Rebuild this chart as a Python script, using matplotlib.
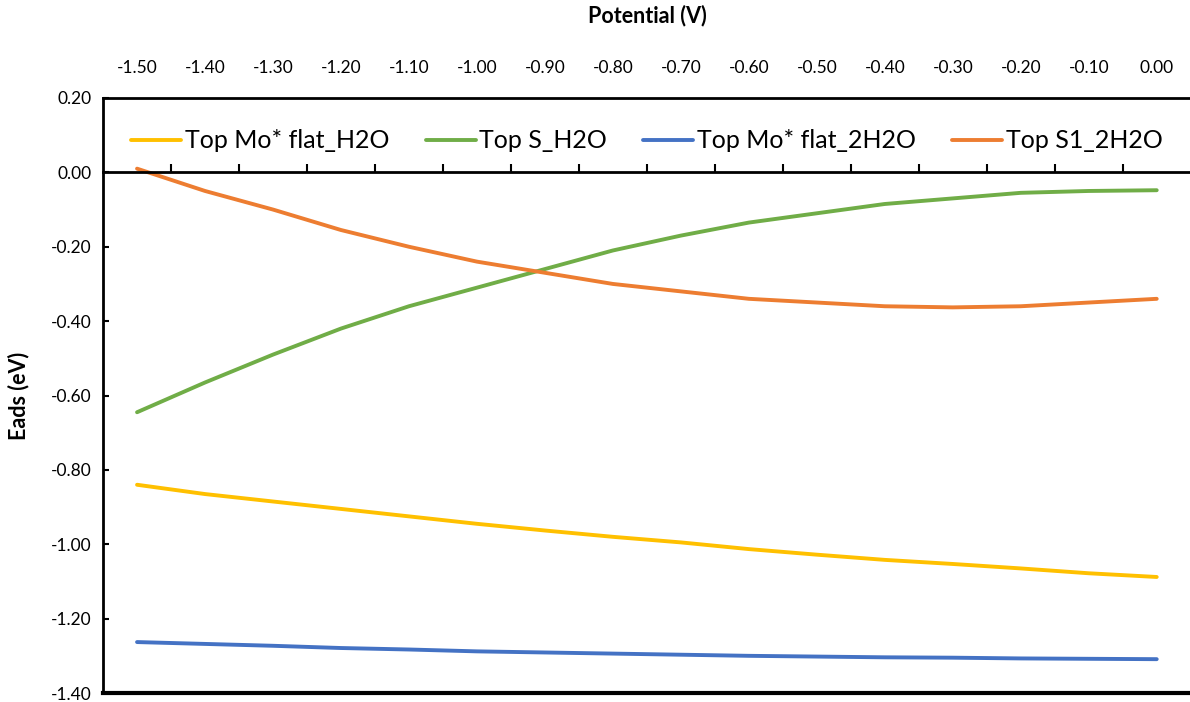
import numpy as np
import matplotlib.pyplot as plt
from matplotlib.ticker import FixedLocator

# Potential (V) categories
potential = ['-1.50', '-1.40', '-1.30', '-1.20', '-1.10', '-1.00', '-0.90', '-0.80',
             '-0.70', '-0.60', '-0.50', '-0.40', '-0.30', '-0.20', '-0.10', '0.00']

# Eads (eV)
mo_flat_h2o = [-0.840, -0.865, -0.885, -0.905, -0.925, -0.945, -0.963, -0.980,
               -0.995, -1.013, -1.028, -1.042, -1.053, -1.065, -1.078, -1.088]
s_h2o = [-0.645, -0.565, -0.490, -0.420, -0.360, -0.310, -0.260, -0.210,
         -0.170, -0.135, -0.110, -0.085, -0.070, -0.055, -0.050, -0.048]
mo_flat_2h2o = [-1.263, -1.268, -1.273, -1.279, -1.283, -1.288, -1.291, -1.294,
                -1.297, -1.300, -1.302, -1.304, -1.305, -1.307, -1.308, -1.309]
s1_2h2o = [0.010, -0.050, -0.100, -0.155, -0.200, -0.240, -0.270, -0.300,
           -0.320, -0.340, -0.350, -0.360, -0.363, -0.360, -0.350, -0.340]

y_ticks = [-1.4, -1.2, -1.0, -0.8, -0.6, -0.4, -0.2, 0.0, 0.2]
y_ticklabels = ['-1.40', '-1.20', '-1.00', '-0.80', '-0.60', '-0.40', '-0.20', '0.00', '0.20']

series_names = ['Top Mo* flat_H2O', 'Top S_H2O', 'Top Mo* flat_2H2O', 'Top S1_2H2O']
colors = ['#FFC000', '#70AD47', '#4472C4', '#ED7D31']

plt.rcParams['font.family'] = ['Lato', 'DejaVu Sans']

fig = plt.figure(figsize=(11.9, 7.02), dpi=100)
ax = fig.add_axes([0.0866, 0.0128, 0.914, 0.8476])

x = np.arange(len(potential))
for vals, name, c in zip([mo_flat_h2o, s_h2o, mo_flat_2h2o, s1_2h2o], series_names, colors):
    ax.plot(x, vals, color=c, lw=2.8, label=name, solid_capstyle='round')

ax.set_xlim(-0.5, len(potential) - 0.5)
ax.set_ylim(-1.4, 0.2)
ax.set_yticks(y_ticks)
ax.set_yticklabels(y_ticklabels, fontsize=12.5)
ax.tick_params(axis='y', direction='in', length=4, width=1.5, pad=8)

# category axis crosses at y=0, tick marks between categories pointing up
ax.spines['bottom'].set_position(('data', 0))
ax.spines['right'].set_visible(False)
for s in ['bottom', 'left', 'top']:
    ax.spines[s].set_linewidth(2)
ax.axhline(-1.4, color='black', lw=3, clip_on=False)
ax.xaxis.set_major_locator(FixedLocator(np.arange(0.5, len(potential) - 1, 1.0)))
ax.xaxis.set_ticklabels([])
ax.tick_params(axis='x', direction='in', length=6, width=1.5)

# tick labels and title above the plot area
top = ax.secondary_xaxis('top')
top.set_xticks(x)
top.set_xticklabels(potential, fontsize=12.5)
top.tick_params(length=0, pad=16)
top.spines['top'].set_visible(False)
top.set_xlabel('Potential (V)', fontsize=15.5, fontweight='bold', labelpad=27)

ax.set_ylabel('Eads (eV)', fontsize=15.5, fontweight='bold', labelpad=16)

ax.legend(loc='upper center', bbox_to_anchor=(0.5, 0.985), ncol=4, frameon=False,
          fontsize=18, handlelength=2.0, handletextpad=0.15, columnspacing=1.45)

fig.savefig('out.png', dpi=100)
